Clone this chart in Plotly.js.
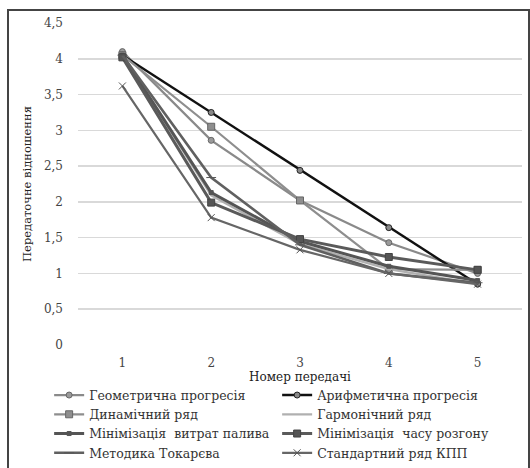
<!DOCTYPE html>
<html>
<head>
<meta charset="utf-8">
<script src="https://cdn.plot.ly/plotly-3.0.1.min.js"></script>
<style>
html,body{margin:0;padding:0;background:#fff;}
#chart{width:530px;height:468px;position:relative;}
#frame{position:absolute;left:7px;top:9px;width:519px;height:465px;border:2px solid #444;pointer-events:none;}
</style>
</head>
<body>
<div id="chart"></div>
<div id="frame"></div>
<script>
const gears = ['1', '2', '3', '4', '5'];
const geometric = [4.10, 2.86, 2.02, 1.43, 1.00];
const arithmetic = [4.05, 3.25, 2.44, 1.64, 0.85];
const dynamicRow = [4.05, 3.05, 2.02, 1.06, 1.05];
const harmonic = [4.05, 2.09, 1.41, 1.06, 0.85];
const minFuel = [4.05, 2.13, 1.45, 1.10, 0.90];
const minAccel = [4.02, 1.99, 1.48, 1.23, 1.05];
const tokarev = [4.05, 2.34, 1.40, 1.00, 0.87];
const standard = [3.62, 1.78, 1.33, 1.00, 0.85];

const names = ['Геометрична прогресія', 'Арифметична прогресія', 'Динамічний ряд', 'Гармонічний ряд',
  'Мінімізація  витрат палива', 'Мінімізація  часу розгону', 'Методика Токарєва', 'Стандартний ряд КПП'];

function tr(y, name, color, width, symbol, msize, mcolor, mline) {
  const t = {x: gears, y: y, name: name, type: 'scatter',
    mode: symbol ? 'lines+markers' : 'lines',
    line: {color: color, width: width}};
  if (symbol) t.marker = {symbol: symbol, size: msize, color: mcolor || color,
    line: {color: mline || color, width: 1}};
  return t;
}

const data = [
  tr(geometric, names[0], '#8a8a8a', 2.2, 'circle', 6, '#9a9a9a', '#666'),
  tr(arithmetic, names[1], '#111', 2.4, 'circle', 6, '#888', '#222'),
  tr(dynamicRow, names[2], '#8e8e8e', 2.2, 'square', 7, '#8e8e8e', '#666'),
  tr(harmonic, names[3], '#b0b0b0', 2.2, null),
  tr(minFuel, names[4], '#555', 3, 'square', 4, '#555', '#555'),
  tr(minAccel, names[5], '#5a5a5a', 3, 'square', 7, '#555', '#444'),
  tr(tokarev, names[6], '#606060', 2.6, 'line-ew-open', 7, '#555', '#555'),
  tr(standard, names[7], '#666', 2.2, 'x-thin-open', 7, '#555', '#555')
];

const FONT = 'DejaVu Serif';

const layout = {
  width: 530, height: 468,
  margin: {l: 78, r: 8, t: 23, b: 123, autoexpand: false},
  paper_bgcolor: '#fff', plot_bgcolor: '#fff',
  font: {family: FONT, color: '#333', size: 12},
  showlegend: true,
  xaxis: {type: 'category', range: [-0.5, 4.5], showgrid: false, zeroline: false,
    showline: false, ticks: '', tickfont: {family: FONT, size: 12, color: '#444'}, ticklabelstandoff: 9,
    title: {text: 'Номер передачі', font: {family: FONT, size: 12, color: '#222'}, standoff: 3}},
  yaxis: {range: [0, 4.5], dtick: 0.5, showgrid: true, gridcolor: '#d9d9d9', gridwidth: 1.5,
    zeroline: false, showline: false, ticks: '',
    tickformat: ',.1~f', tickfont: {family: FONT, size: 12, color: '#444'}, ticklabelstandoff: 14,
    title: {text: 'Передаточне відношення', font: {family: FONT, size: 11.5, color: '#222'}, standoff: 9}},
  separators: ', ',
  legend: {orientation: 'h', x: -0.065, xanchor: 'left', y: -0.11, yanchor: 'top',
    entrywidth: 183, entrywidthmode: 'pixels', tracegroupgap: 0, itemwidth: 30,
    font: {family: FONT, size: 12.5, color: '#333'}, bgcolor: 'rgba(0,0,0,0)'}
};

Plotly.newPlot('chart', data, layout, {displayModeBar: false, staticPlot: true});
</script>
</body>
</html>
